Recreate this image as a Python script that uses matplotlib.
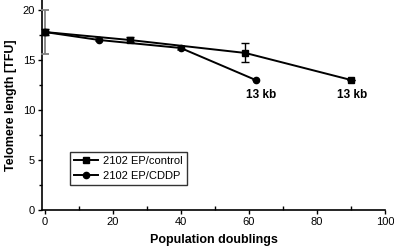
import matplotlib
matplotlib.use('Agg')
import matplotlib.pyplot as plt
from matplotlib.ticker import MultipleLocator

# data
ctrl_x = [0, 25, 59, 90]
ctrl_y = [17.8, 17.0, 15.7, 13.0]
ctrl_err = [0.3, 0.25, 0.95, 0.0]

cddp_x = [0, 16, 40, 62]
cddp_y = [17.8, 17.0, 16.2, 13.0]
cddp_err = [2.2, 0.15, 0.2, 0.0]

labels_x = [63.5, 90.5]
labels_y = [11.5, 11.5]
label_text = ['13 kb', '13 kb']

plt.rcParams['font.family'] = ['Liberation Sans', 'DejaVu Sans']

fig = plt.figure(figsize=(3.94, 2.49), dpi=100)
ax = fig.add_axes([0.107, 0.157, 0.870, 0.843])

ax.errorbar(cddp_x, cddp_y, yerr=cddp_err, fmt='none', ecolor='#808080',
            elinewidth=1.3, capsize=3, capthick=1.3, clip_on=False, zorder=3)
ax.errorbar(ctrl_x, ctrl_y, yerr=ctrl_err, fmt='none', ecolor='black',
            elinewidth=1, capsize=3, capthick=1, clip_on=False, zorder=3)
ax.plot(ctrl_x, ctrl_y, color='black', marker='s', markersize=4.5,
        linewidth=1.4, label='2102 EP/control', zorder=4)
ax.plot(cddp_x, cddp_y, color='black', marker='o', markersize=4.5,
        linewidth=1.4, label='2102 EP/CDDP', zorder=4)

for x, y, t in zip(labels_x, labels_y, label_text):
    ax.text(x, y, t, ha='center', va='center', fontsize=8.5, fontweight='bold')

ax.set_xlim(-0.7, 100)
ax.set_ylim(0, 21)
ax.xaxis.set_major_locator(MultipleLocator(20))
ax.xaxis.set_minor_locator(MultipleLocator(10))
ax.yaxis.set_major_locator(MultipleLocator(5))
ax.yaxis.set_minor_locator(MultipleLocator(2.5))
ax.tick_params(which='major', direction='out', length=3, width=1, labelsize=8, pad=2)
ax.tick_params(axis='x', which='minor', direction='in', length=3, width=1)
ax.tick_params(axis='y', which='minor', direction='out', length=2.5, width=1)

for s in ['top', 'right']:
    ax.spines[s].set_visible(False)
for s in ['left', 'bottom']:
    ax.spines[s].set_linewidth(1.2)

ax.set_xlabel('Population doublings', fontsize=9, fontweight='bold', labelpad=5)
ax.set_ylabel('Telomere length [TFU]', fontsize=9, fontweight='bold', labelpad=4)

leg = ax.legend(loc='lower left', bbox_to_anchor=(0.08, 0.118), fontsize=8,
                frameon=True, fancybox=False, edgecolor='black',
                handlelength=2.2, borderpad=0.4, labelspacing=0.4,
                borderaxespad=0, handletextpad=0.4)
leg.get_frame().set_linewidth(1)

fig.savefig('out.png', dpi=100)
